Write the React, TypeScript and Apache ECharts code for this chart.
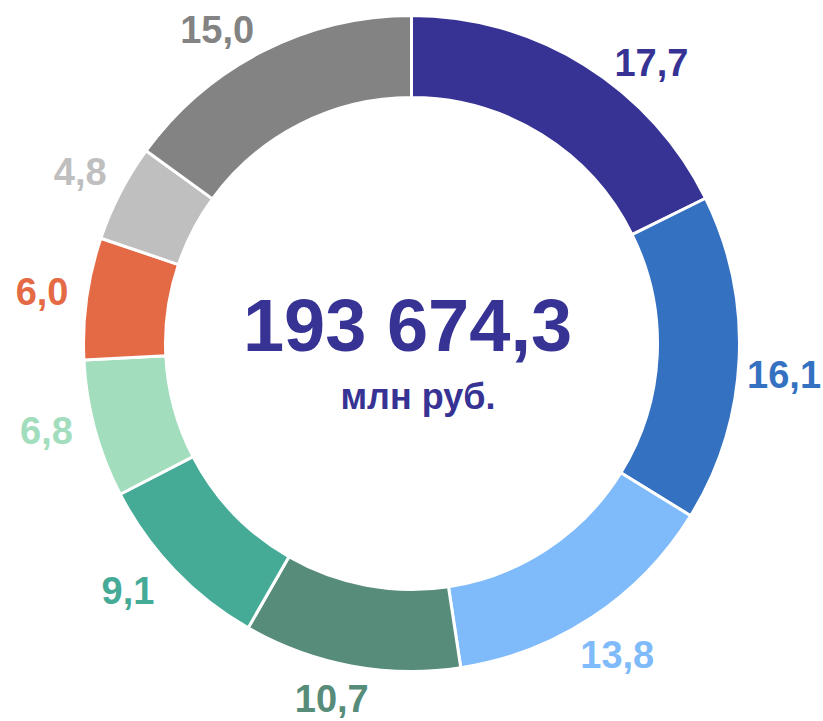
import React, { useEffect, useRef } from "react";
import * as echarts from "echarts";

// Data
const categories = ["Доля 1", "Доля 2", "Доля 3", "Доля 4", "Доля 5", "Доля 6", "Доля 7", "Доля 8", "Доля 9"];
const shares = [17.7, 16.1, 13.8, 10.7, 9.1, 6.8, 6.0, 4.8, 15.0];
const sliceColors = ["#373395", "#3571C1", "#7FBBFA", "#568C79", "#45AA96", "#A2DDBD", "#E46A46", "#BFBFBF", "#838383"];
const totalLabel = "193 674,3";
const unitLabel = "млн руб.";

const FONT = '"Liberation Sans", Arial, Helvetica, sans-serif';

// Manual label nudges (labels moved in the original to stay inside the chart area)
const labelNudge: Record<number, [number, number]> = {
  0: [43, 36],
  1: [0, 14],
  3: [-11, -11],
  4: [-14, -10],
  5: [-5, -10],
  8: [-25, 19],
};

function fmt(v: number): string {
  return v.toFixed(1).replace(".", ",");
}

export default function App() {
  const ref = useRef<HTMLDivElement>(null);

  useEffect(() => {
    if (!ref.current) return;
    const chart = echarts.init(ref.current, null, { renderer: "svg" });
    const CX = 411.5;
    const CY = 343.5;

    const data = shares.map((v, i) => ({
      name: categories[i],
      value: v,
      itemStyle: { color: sliceColors[i] },
      label: { color: sliceColors[i] },
    }));

    chart.setOption({
      animation: false,
      backgroundColor: "#ffffff",
      series: [
        {
          type: "pie",
          center: [CX, CY],
          radius: [246, 328],
          startAngle: 90,
          clockwise: true,
          avoidLabelOverlap: false,
          silent: true,
          itemStyle: { borderColor: "#ffffff", borderWidth: 3 },
          label: {
            show: true,
            position: "outside",
            formatter: (p: any) => fmt(p.value),
            fontFamily: FONT,
            fontWeight: "bold",
            fontSize: 38,
            distanceToLabelLine: 0,
            bleedMargin: 0,
            width: 110,
          },
          labelLine: { show: false, length: 45, length2: 0 },
          labelLayout: (params: any) => {
            const nudge = labelNudge[params.dataIndex] || [0, 0];
            return {
              align: "center",
              verticalAlign: "middle",
              dx: nudge[0],
              dy: nudge[1],
            };
          },
          data,
        },
      ],
      graphic: [
        {
          type: "text",
          x: 407.5,
          y: 325,
          style: {
            text: totalLabel,
            fill: "#373395",
            fontFamily: FONT,
            fontWeight: "bold",
            fontSize: 74,
            align: "center",
            verticalAlign: "middle",
          },
        },
        {
          type: "text",
          x: 418,
          y: 396,
          style: {
            text: unitLabel,
            fill: "#373395",
            fontFamily: FONT,
            fontWeight: "bold",
            fontSize: 36,
            align: "center",
            verticalAlign: "middle",
          },
        },
      ],
    });

    return () => {
      chart.dispose();
    };
  }, []);

  return (
    <div
      ref={ref}
      style={{ position: "fixed", left: 0, top: 0, width: 823, height: 721 }}
    />
  );
}
